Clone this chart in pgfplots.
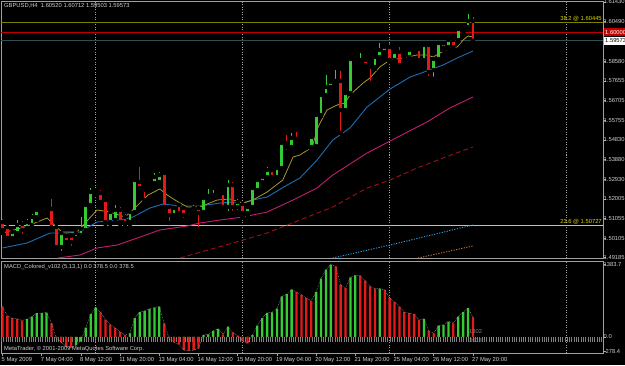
\documentclass[border=0pt]{standalone}
\usepackage{fontspec}
\setmainfont{Liberation Sans}
\usepackage{pgfplots}
\usepackage{pgfplotstable}
\pgfplotsset{compat=1.18}
\definecolor{upc}{HTML}{33CC33}
\definecolor{dnc}{HTML}{E61919}
\definecolor{txt}{HTML}{D0D0D0}
\definecolor{frm}{HTML}{A0A0A0}
\definecolor{olivel}{HTML}{808000}
\definecolor{fiboy}{HTML}{D8D800}
\definecolor{maol}{HTML}{A89830}
\definecolor{mabl}{HTML}{1E6EB4}
\definecolor{mamg}{HTML}{C02070}
\definecolor{mard}{HTML}{A01010}
\definecolor{malb}{HTML}{30A0E0}
\definecolor{maor}{HTML}{D07020}
\definecolor{bidc}{HTML}{2F4F4F}
\definecolor{redl}{HTML}{C00000}

\pgfplotstableread{
i o h l c g
0 1.50892 1.51036 1.50365 1.50509 0
1 1.50653 1.50749 1.50030 1.50126 0
2 1.50126 1.50509 1.50030 1.50413 1
3 1.50365 1.50988 1.50270 1.50749 1
4 1.50796 1.50940 1.50222 1.50509 0
5 1.50605 1.51036 1.50413 1.50892 1
6 1.50749 1.51275 1.50605 1.51132 1
7 1.51132 1.51563 1.50988 1.51467 1
8 1.51467 1.51563 1.51275 1.51371 0
9 1.51371 1.51611 1.51275 1.51515 1
10 1.51515 1.51994 1.50605 1.50653 0
11 1.50653 1.50749 1.49647 1.49695 0
12 1.49695 1.50461 1.49407 1.50365 1
13 1.50222 1.50365 1.49791 1.49934 0
14 1.50222 1.50317 1.49647 1.49934 0
15 1.50126 1.50461 1.50030 1.50365 1
16 1.50270 1.51132 1.50174 1.50557 1
17 1.50509 1.51802 1.50461 1.51707 1
18 1.51707 1.52521 1.51611 1.52329 1
19 1.52281 1.52425 1.52186 1.52329 1
20 1.52281 1.52425 1.51754 1.51850 0
21 1.51946 1.52042 1.50796 1.50892 0
22 1.50892 1.51467 1.50796 1.51371 1
23 1.50988 1.51707 1.50892 1.51467 1
24 1.51467 1.51611 1.50796 1.50892 0
25 1.51132 1.51275 1.50701 1.50844 0
26 1.50892 1.51467 1.50796 1.51371 1
27 1.51371 1.53000 1.51323 1.52904 1
28 1.52808 1.53527 1.52425 1.52521 0
29 1.52569 1.52664 1.51946 1.52425 0
30 1.52617 1.52856 1.52521 1.52760 1
31 1.52760 1.53239 1.52664 1.53048 1
32 1.52808 1.53287 1.52712 1.53143 1
33 1.53239 1.53335 1.51563 1.51611 0
34 1.51611 1.51707 1.50844 1.51228 0
35 1.51228 1.51659 1.51132 1.51563 1
36 1.51707 1.51850 1.51228 1.51323 0
37 1.51563 1.51659 1.50988 1.51228 0
38 1.51323 1.51563 1.51180 1.51467 1
39 1.51371 1.51707 1.51275 1.51563 1
40 1.51563 1.51659 1.50557 1.51323 0
41 1.51371 1.52090 1.51275 1.52042 1
42 1.52090 1.52473 1.51946 1.52138 1
43 1.52090 1.52425 1.52042 1.52186 1
44 1.52186 1.52377 1.52090 1.52281 1
45 1.52281 1.52377 1.51467 1.51611 0
46 1.51611 1.52904 1.51323 1.52664 1
47 1.52664 1.52808 1.51323 1.51611 0
48 1.51611 1.51994 1.51371 1.51850 1
49 1.51754 1.51850 1.51132 1.51323 0
50 1.51323 1.51707 1.51228 1.51611 1
51 1.51611 1.52569 1.51515 1.52521 1
52 1.52425 1.53000 1.52329 1.52904 1
53 1.52808 1.53143 1.52712 1.53048 1
54 1.53048 1.53527 1.52952 1.53383 1
55 1.53383 1.53479 1.53000 1.53048 0
56 1.53048 1.53575 1.52952 1.53479 1
57 1.53479 1.54772 1.53431 1.54676 1
58 1.54676 1.55059 1.54245 1.54485 0
59 1.54485 1.55155 1.54389 1.54916 1
60 1.54868 1.55203 1.54581 1.54676 0
61 1.54772 1.54868 1.54581 1.54676 0
62 1.54724 1.54820 1.54437 1.54533 0
63 1.54485 1.55059 1.54437 1.54964 1
64 1.54533 1.56113 1.54485 1.56017 1
65 1.56017 1.57071 1.55970 1.56975 1
66 1.56975 1.57934 1.56928 1.57359 1
67 1.57359 1.57694 1.57263 1.57598 1
68 1.57598 1.58173 1.57550 1.57646 1
69 1.57646 1.58125 1.55155 1.56257 0
70 1.56257 1.57167 1.56161 1.57071 1
71 1.57071 1.58796 1.57023 1.58700 1
72 1.58652 1.58748 1.58413 1.58508 0
73 1.58508 1.58987 1.58413 1.58652 1
74 1.58652 1.58748 1.58317 1.58413 0
75 1.58508 1.58604 1.57550 1.58317 0
76 1.58317 1.58892 1.58221 1.58796 1
77 1.58796 1.59466 1.58700 1.59131 1
78 1.59035 1.59371 1.58939 1.59275 1
79 1.59275 1.59466 1.58556 1.58652 0
80 1.58652 1.59131 1.58556 1.59035 1
81 1.59035 1.59275 1.58317 1.58413 0
82 1.58796 1.58987 1.58700 1.58892 1
83 1.58796 1.59227 1.58700 1.59131 1
84 1.59083 1.59275 1.59035 1.59179 1
85 1.59179 1.59275 1.58556 1.58652 0
86 1.58652 1.59466 1.58556 1.59371 1
87 1.59371 1.59466 1.57790 1.58077 0
88 1.58173 1.58796 1.57742 1.58700 1
89 1.58700 1.59562 1.58604 1.59466 1
90 1.59466 1.59610 1.59131 1.59227 0
91 1.59275 1.59706 1.59179 1.59610 1
92 1.59610 1.59706 1.59179 1.59275 0
93 1.59610 1.60233 1.59514 1.60137 1
94 1.60089 1.60329 1.59993 1.60233 1
95 1.60233 1.60855 1.60137 1.60520 1
96 1.60520 1.60712 1.59503 1.59573 0
}\candles

\pgfplotstableread{
i v g
0 582 0
1 403 0
2 358 0
3 346 0
4 314 0
5 339 1
6 390 1
7 454 1
8 458 1
9 466 1
10 262 0
11 -20 0
12 -102 0
13 -186 0
14 -205 0
15 -154 1
16 -77 1
17 179 1
18 435 1
19 563 1
20 470 0
21 330 0
22 235 0
23 170 0
24 95 0
25 40 0
26 70 1
27 358 1
28 474 1
29 499 1
30 538 1
31 563 1
32 582 1
33 262 0
34 -26 0
35 -102 0
36 -141 0
37 -250 0
38 -262 0
39 -250 0
40 -218 0
41 38 1
42 51 1
43 115 1
44 154 1
45 51 0
46 198 1
47 90 0
48 26 0
49 -77 0
50 -122 0
51 38 1
52 218 1
53 358 1
54 461 1
55 470 1
56 540 1
57 774 1
58 819 1
59 902 1
60 858 0
61 806 0
62 742 0
63 691 0
64 858 1
65 1114 1
66 1286 1
67 1382 1
68 1350 0
69 998 0
70 934 0
71 1139 1
72 1178 1
73 1170 0
74 1075 0
75 966 0
76 922 0
77 922 1
78 900 0
79 742 0
80 666 0
81 582 0
82 474 0
83 454 0
84 435 0
85 326 0
86 346 1
87 115 0
88 70 0
89 218 1
90 230 1
91 294 1
92 262 0
93 390 1
94 474 1
95 550 1
96 378 0
}\macd

\newcommand\fs{\fontsize{5.8}{6.5}\selectfont}

\begin{document}
\begin{tikzpicture}
\fill[black] (0pt,0pt) rectangle (625pt,365pt);

% ---------------- main price panel ----------------
\begin{axis}[
  at={(1pt,107pt)}, anchor=south west, scale only axis,
  width=602pt, height=257pt,
  xmin=-0.306, xmax=122.55, ymin=1.49168, ymax=1.61478,
  axis line style={frm, line width=0.6pt},
  xtick={19,49,79,115}, xticklabels={},
  xmajorgrids,
  major x grid style={frm, dash pattern=on 1pt off 1.5pt, line width=0.5pt},
  x tick style={draw=none},
  ytick={1.49185,1.50105,1.51055,1.52005,1.52930,1.53880,1.54830,1.55755,1.56705,1.57655,1.58580,1.60490,1.61430},
  yticklabels={1.49185,1.50105,1.51055,1.52005,1.52930,1.53880,1.54830,1.55755,1.56705,1.57655,1.58580,1.60490,1.61430},
  ytick pos=right, yticklabel pos=right,
  tick align=outside, major tick length=2.5pt,
  y tick style={frm, line width=0.5pt},
  yticklabel style={font=\fs, text=txt, inner sep=0pt, xshift=-2pt},
]
% horizontal levels
\addplot [olivel, line width=1.6pt, forget plot] coordinates {(-0.306,1.60445) (122.55,1.60445)};
\addplot [redl, line width=0.7pt, forget plot] coordinates {(-0.306,1.60000) (122.55,1.60000)};
\addplot [bidc, line width=0.7pt, forget plot] coordinates {(-0.306,1.59573) (122.55,1.59573)};
\addplot [fiboy, line width=0.9pt, forget plot] coordinates {(-0.306,1.50727) (122.55,1.50727)};

% moving averages
\addplot [malb, line width=0.9pt, dash pattern=on 1.2pt off 1.4pt, forget plot] coordinates {(67.4,1.49168) (79.1,1.49791) (96,1.50749)};
\addplot [maor, line width=0.9pt, dash pattern=on 1.2pt off 1.4pt, forget plot] coordinates {(84.8,1.49168) (96,1.49743)};
\addplot [mard, line width=0.9pt, dash pattern=on 5pt off 3pt, forget plot] coordinates {(36.2,1.49168) (47.0,1.49886) (54.0,1.50365) (60.7,1.50988) (67.4,1.51611) (74.4,1.52521) (79.1,1.52904) (84.6,1.53479) (89.9,1.53958) (96,1.54485)};
\addplot [mamg, line width=0.9pt, forget plot] coordinates {(11.3,1.49168) (15.8,1.49312) (19.3,1.49647) (23.4,1.49791) (28.1,1.50174) (32.1,1.50509) (37.7,1.50701) (40.3,1.50844) (44.4,1.50988) (49.1,1.51132) (54.0,1.51371) (59.3,1.51946) (64.2,1.52521) (67.4,1.53143) (74.4,1.54197) (79.1,1.54772) (86.6,1.55682) (91.3,1.56353) (96,1.56880)};
\addplot [mabl, line width=0.9pt, forget plot] coordinates {(0,1.49647) (5.0,1.49886) (9.7,1.50365) (13.2,1.50365) (15.8,1.50413) (19.3,1.50892) (24.0,1.50988) (26.6,1.51132) (30.1,1.51563) (32.8,1.51754) (36.2,1.51659) (40.3,1.51659) (44.4,1.51802) (47.0,1.51850) (49.1,1.51802) (51.1,1.51946) (54.0,1.52090) (58.1,1.52664) (60.7,1.53000) (64.2,1.53862) (67.4,1.54820) (70.9,1.55395) (74.4,1.56401) (79.1,1.57263) (83.2,1.57838) (86.6,1.58125) (89.9,1.58413) (92.8,1.58748) (96,1.59083)};
\addplot [maol, line width=0.8pt, forget plot] coordinates {(0,1.50365) (4.6,1.50653) (9.1,1.51084) (12.1,1.50413) (15.2,1.50413) (19.3,1.51467) (21.9,1.51371) (25.0,1.51132) (27.0,1.51563) (29.7,1.52186) (32.1,1.52473) (33.6,1.52186) (35.2,1.51946) (37.7,1.51611) (40.3,1.51611) (43.8,1.51946) (46.4,1.51994) (49.1,1.51802) (51.1,1.51946) (54.0,1.52329) (57.2,1.52904) (59.3,1.54006) (60.7,1.54101) (63.2,1.54485) (64.4,1.55443) (66.2,1.56257) (68.3,1.56497) (69.9,1.56592) (70.9,1.56975) (73.6,1.57550) (75.0,1.57790) (77.0,1.58317) (79.1,1.58652) (81.7,1.58748) (84.6,1.58892) (86.6,1.58892) (87.9,1.58796) (89.3,1.58987) (91.3,1.59227) (92.8,1.59275) (94.0,1.59610) (95.0,1.59802) (96,1.59754)};

% candle wicks
\addplot [only marks, mark=none, forget plot, error bars/.cd, y dir=plus, y explicit, error mark=none,
  error bar style={draw=upc, line width=0.7pt}]
  table [x=i, y=l, y error plus expr=\thisrow{g}*(\thisrow{h}-\thisrow{l})] {\candles};
\addplot [only marks, mark=none, forget plot, error bars/.cd, y dir=plus, y explicit, error mark=none,
  error bar style={draw=dnc, line width=0.7pt}]
  table [x=i, y=l, y error plus expr=(1-\thisrow{g})*(\thisrow{h}-\thisrow{l})] {\candles};
% candle bodies
\addplot [only marks, mark=none, forget plot, error bars/.cd, y dir=plus, y explicit, error mark=none,
  error bar style={draw=upc, line width=2.8pt}]
  table [x=i, y=o, y error plus expr=\thisrow{g}*(\thisrow{c}-\thisrow{o}+0.00012)] {\candles};
\addplot [only marks, mark=none, forget plot, error bars/.cd, y dir=plus, y explicit, error mark=none,
  error bar style={draw=dnc, line width=2.8pt}]
  table [x=i, y=c, y error plus expr=(1-\thisrow{g})*(\thisrow{o}-\thisrow{c})] {\candles};

% labels on levels
\node[font=\fs, text=fiboy, anchor=south east, inner sep=0.6pt] at (axis cs:122.45,1.60445) {38.2 @ 1.60445};
\node[font=\fs, text=fiboy, anchor=south east, inner sep=0.6pt] at (axis cs:122.45,1.50727) {23.6 @ 1.50727};
\end{axis}

% price boxes on the right scale
\fill[redl] (604pt,328.6pt) rectangle (625pt,336.6pt);
\node[font=\fs, text=white, anchor=west, inner sep=0pt] at (605pt,332.6pt) {1.60000};
\fill[white] (604pt,320.2pt) rectangle (625pt,328.2pt);
\node[font=\fs, text=black, anchor=west, inner sep=0pt] at (605pt,324.2pt) {1.59573};

% ---------------- MACD panel ----------------
\begin{axis}[
  at={(1pt,12pt)}, anchor=south west, scale only axis,
  width=602pt, height=92pt,
  xmin=-0.306, xmax=122.55, ymin=-305.4, ymax=1450.5,
  axis line style={frm, line width=0.6pt},
  xtick={0,8,...,96},
  xticklabels={5 May 2009,7 May 04:00,8 May 12:00,11 May 20:00,13 May 04:00,14 May 12:00,15 May 20:00,19 May 04:00,20 May 12:00,21 May 20:00,25 May 04:00,26 May 12:00,27 May 20:00},
  xtick pos=bottom, xticklabel pos=bottom,
  xticklabel style={font=\fs, text=txt, anchor=north west, inner sep=0pt, xshift=-1pt, yshift=-1.5pt},
  extra x ticks={19,49,79,115}, extra x tick labels={},
  extra x tick style={grid=major, major tick length=0pt, major grid style={frm, dash pattern=on 1pt off 1.5pt, line width=0.5pt}},
  ytick={-278.4,0,1383.7}, yticklabels={-278.4,0.0,1383.7},
  ytick pos=right, yticklabel pos=right,
  tick align=outside, major tick length=2.5pt,
  tick style={frm, line width=0.5pt},
  yticklabel style={font=\fs, text=txt, inner sep=0pt, xshift=-2pt},
]
\addplot [color=gray, line width=4.5pt, dash pattern=on 0.8pt off 1.5pt, forget plot] coordinates {(-0.306,-48) (122.55,-48)};
\addplot [ybar, bar width=2.3pt, bar shift=0pt, fill=upc, draw=none, forget plot] table [x=i, y expr=\thisrow{g}*\thisrow{v}] {\macd};
\addplot [ybar, bar width=2.3pt, bar shift=0pt, fill=dnc, draw=none, forget plot] table [x=i, y expr=(1-\thisrow{g})*\thisrow{v}] {\macd};
\addplot [color=frm, line width=0.5pt, dash pattern=on 0.6pt off 1pt, forget plot] table [x=i, y=v] {\macd};
\end{axis}

% texts
\node[font=\fs, text=txt, anchor=west, inner sep=0pt] at (4pt,359pt) {GBPUSD,H4\ \ 1.60520 1.60712 1.59503 1.59573};
\node[font=\fs, text=txt, anchor=west, inner sep=0pt] at (4pt,98pt) {MACD\_Colored\_v102 (5,13,1) 0.0 378.5 0.0 378.5};
\node[font=\fs, text=txt, anchor=west, inner sep=0pt] at (4pt,16pt) {MetaTrader, © 2001-2009 MetaQuotes Software Corp.};
\node[font=\fs, text=gray, anchor=west, inner sep=0pt] at (469pt,33pt) {1302};
\node[font=\fs, text=gray, anchor=west, inner sep=0pt] at (469pt,24.5pt) {3614};

\pgfresetboundingbox
\path[use as bounding box] (0pt,0pt) rectangle (625pt,365pt);
\end{tikzpicture}
\end{document}
